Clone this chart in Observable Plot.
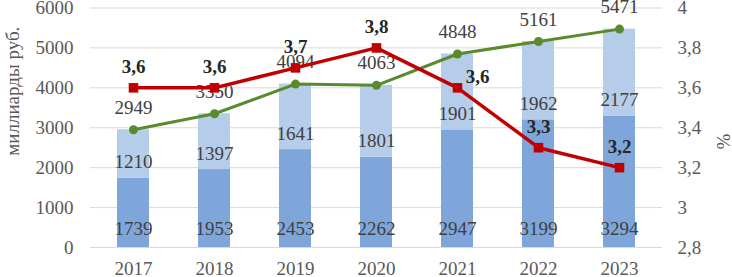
<!DOCTYPE html>
<html>
<head>
<meta charset="utf-8">
<script src="https://cdn.jsdelivr.net/npm/d3@7"></script>
<script src="https://cdn.jsdelivr.net/npm/@observablehq/plot@0.6"></script>
<style>
  html, body { margin: 0; padding: 0; background: #fff; }
  #chart svg, #chart svg g, #chart svg text { font-family: 'Liberation Serif', 'Times New Roman', serif !important; font-variant: normal !important; }
</style>
</head>
<body>
<div id="chart"></div>
<script>
const years = ["2017", "2018", "2019", "2020", "2021", "2022", "2023"];
const darkValues = [1739, 1953, 2453, 2262, 2947, 3199, 3294];
const lightValues = [1210, 1397, 1641, 1801, 1901, 1962, 2177];
const totalValues = [2949, 3350, 4094, 4063, 4848, 5161, 5471];
const pctValues = [3.6, 3.6, 3.7, 3.8, 3.6, 3.3, 3.2];
const leftTicks = [0, 1000, 2000, 3000, 4000, 5000, 6000];
const pctTicks = [2.8, 3, 3.2, 3.4, 3.6, 3.8, 4];
const leftTitle = "миллиарды руб.";
const rightTitle = "%";

const leftMax = 6000, pMin = 2.8, pMax = 4;
const toY = p => (p - pMin) / (pMax - pMin) * leftMax;
const fromY = y => pMin + y / leftMax * (pMax - pMin);
const fmtPct = v => String(Number(v.toFixed(1))).replace(".", ",");

const rows = years.map((year, i) => ({
  year, dark: darkValues[i], light: lightValues[i], total: totalValues[i],
  pct: pctValues[i], pctY: toY(pctValues[i])
}));

const dark = "#7EA6DA", light = "#B6CDEA", green = "#5B8A2C", red = "#C00000";
const font = "'Liberation Serif', 'Times New Roman', serif";

const chart = Plot.plot({
  width: 732, height: 277,
  marginLeft: 90, marginRight: 70, marginTop: 7.5, marginBottom: 30,
  style: { fontFamily: font, fontSize: "19px", color: "#595959", background: "#fff", overflow: "visible" },
  x: { type: "band", domain: years, paddingInner: 0.6, paddingOuter: 0.3 },
  y: { domain: [0, leftMax] },
  marks: [
    Plot.gridY(leftTicks, { stroke: "#d9d9d9", strokeOpacity: 1, strokeWidth: 1 }),
    Plot.axisY(leftTicks, { tickSize: 0, tickPadding: 17, label: null, fill: "#595959", fontFamily: font, tickFormat: d => String(d) }),
    Plot.axisY(pctTicks.map(toY), { anchor: "right", tickSize: 0, tickPadding: 15, label: null, fill: "#595959", fontFamily: font, tickFormat: d => fmtPct(fromY(d)) }),
    Plot.axisX({ tickSize: 0, tickPadding: 14, label: null, fill: "#595959", fontFamily: font }),
    Plot.barY(rows, { x: "year", y: "dark", fill: dark }),
    Plot.barY(rows, { x: "year", y1: "dark", y2: "total", fill: light }),
    Plot.text(rows, { x: "year", y: 0, text: d => String(d.dark), dy: -19, fill: "#404040" }),
    Plot.text(rows, { x: "year", y: "dark", text: d => String(d.light), dy: -16, fill: "#404040" }),
    Plot.line(rows, { x: "year", y: "total", stroke: green, strokeWidth: 3 }),
    Plot.dot(rows, { x: "year", y: "total", r: 4.5, fill: green }),
    Plot.text(rows, { x: "year", y: "total", text: d => String(d.total), dy: -22, fill: "#404040" }),
    Plot.line(rows, { x: "year", y: "pctY", stroke: red, strokeWidth: 3.5 }),
    Plot.dot(rows, { x: "year", y: "pctY", r: 5.4, symbol: "square", fill: red }),
    Plot.text(rows.filter(d => d.year !== "2021"), { x: "year", y: "pctY", text: d => fmtPct(d.pct), dy: -21, fill: "#262626", fontWeight: "bold" }),
    Plot.text(rows.filter(d => d.year === "2021"), { x: "year", y: "pctY", text: d => fmtPct(d.pct), dx: 20, dy: -11, fill: "#262626", fontWeight: "bold" }),
    Plot.text([leftTitle], { frameAnchor: "left", text: d => d, rotate: -90, dx: -78, dy: 28, fill: "#595959" }),
    Plot.text([rightTitle], { frameAnchor: "right", text: d => d, rotate: -90, dx: 61, dy: 6, fill: "#595959" })
  ]
});
document.getElementById("chart").appendChild(chart);
</script>
</body>
</html>
